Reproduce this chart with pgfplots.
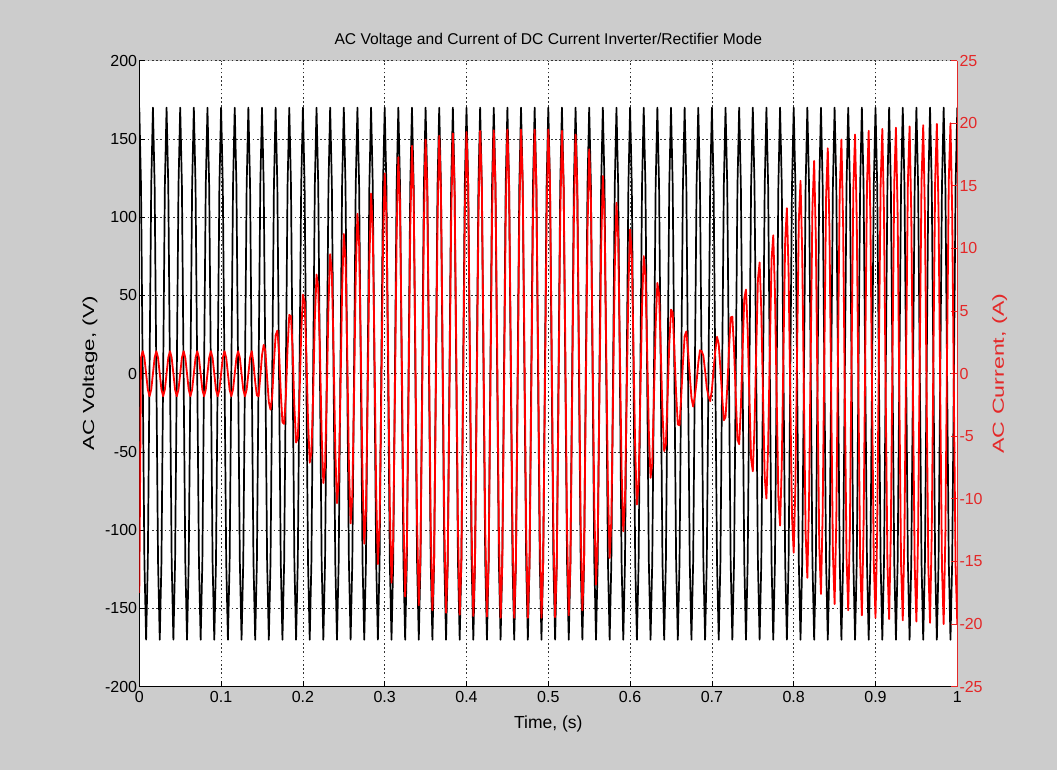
\documentclass[border=0pt]{standalone}
\usepackage{pgfplots}
\pgfplotsset{compat=1.18}
\usepackage{pgfplotstable}
\usepackage{graphicx}
\usepackage{fontspec}
\setmainfont{Liberation Sans}
\definecolor{figbg}{RGB}{204,204,204}
\definecolor{curred}{RGB}{255,0,0}
\definecolor{labred}{RGB}{228,40,40}

\pgfplotstableread[row sep=\\]{
n v i \\
0 170 -17.5 \\ 1 120.2 1.27 \\ 2 0 1.8 \\ 3 -120.2 1.27 \\ 4 -170 0 \\ 5 -120.2 -1.27 \\ 6 0 -1.8 \\ 7 120.2 -1.27 \\
8 170 0 \\ 9 120.2 1.27 \\ 10 0 1.8 \\ 11 -120.2 1.27 \\ 12 -170 0 \\ 13 -120.2 -1.27 \\ 14 0 -1.8 \\ 15 120.2 -1.27 \\
16 170 0 \\ 17 120.2 1.27 \\ 18 0 1.8 \\ 19 -120.2 1.27 \\ 20 -170 0 \\ 21 -120.2 -1.27 \\ 22 0 -1.8 \\ 23 120.2 -1.27 \\
24 170 0 \\ 25 120.2 1.27 \\ 26 0 1.8 \\ 27 -120.2 1.27 \\ 28 -170 0 \\ 29 -120.2 -1.27 \\ 30 0 -1.8 \\ 31 120.2 -1.27 \\
32 170 0 \\ 33 120.2 1.27 \\ 34 0 1.8 \\ 35 -120.2 1.27 \\ 36 -170 0 \\ 37 -120.2 -1.27 \\ 38 0 -1.8 \\ 39 120.2 -1.27 \\
40 170 0 \\ 41 120.2 1.27 \\ 42 0 1.8 \\ 43 -120.2 1.27 \\ 44 -170 0 \\ 45 -120.2 -1.27 \\ 46 0 -1.8 \\ 47 120.2 -1.27 \\
48 170 0 \\ 49 120.2 1.27 \\ 50 0 1.8 \\ 51 -120.2 1.27 \\ 52 -170 0 \\ 53 -120.2 -1.27 \\ 54 0 -1.8 \\ 55 120.2 -1.27 \\
56 170 0 \\ 57 120.2 1.27 \\ 58 0 1.8 \\ 59 -120.2 1.27 \\ 60 -170 0 \\ 61 -120.2 -1.27 \\ 62 0 -1.8 \\ 63 120.2 -1.27 \\
64 170 0 \\ 65 120.2 1.27 \\ 66 0 1.8 \\ 67 -120.2 0.81 \\ 68 -170 -0.65 \\ 69 -120.2 -1.73 \\ 70 0 -1.8 \\ 71 120.2 -0.24 \\
72 170 1.46 \\ 73 120.2 2.30 \\ 74 0 1.8 \\ 75 -120.2 -0.33 \\ 76 -170 -2.26 \\ 77 -120.2 -2.87 \\ 78 0 -1.8 \\ 79 120.2 0.90 \\
80 170 3.07 \\ 81 120.2 3.44 \\ 82 0 1.8 \\ 83 -120.2 -1.47 \\ 84 -170 -3.88 \\ 85 -120.2 -4.01 \\ 86 0 -1.8 \\ 87 120.2 2.05 \\
88 170 4.69 \\ 89 120.2 4.59 \\ 90 0 1.8 \\ 91 -120.2 -2.62 \\ 92 -170 -5.50 \\ 93 -120.2 -5.16 \\ 94 0 -1.8 \\ 95 120.2 3.19 \\
96 170 6.31 \\ 97 120.2 5.73 \\ 98 0 1.8 \\ 99 -120.2 -3.76 \\ 100 -170 -7.11 \\ 101 -120.2 -6.30 \\ 102 0 -1.8 \\ 103 120.2 4.33 \\
104 170 7.92 \\ 105 120.2 6.87 \\ 106 0 1.8 \\ 107 -120.2 -4.90 \\ 108 -170 -8.73 \\ 109 -120.2 -7.44 \\ 110 0 -1.8 \\ 111 120.2 5.48 \\
112 170 9.54 \\ 113 120.2 8.02 \\ 114 0 1.8 \\ 115 -120.2 -6.05 \\ 116 -170 -10.35 \\ 117 -120.2 -8.59 \\ 118 0 -1.8 \\ 119 120.2 6.62 \\
120 170 11.16 \\ 121 120.2 9.16 \\ 122 0 1.8 \\ 123 -120.2 -7.19 \\ 124 -170 -11.96 \\ 125 -120.2 -9.73 \\ 126 0 -1.8 \\ 127 120.2 7.76 \\
128 170 12.77 \\ 129 120.2 10.30 \\ 130 0 1.8 \\ 131 -120.2 -8.33 \\ 132 -170 -13.58 \\ 133 -120.2 -10.87 \\ 134 0 -1.8 \\ 135 120.2 8.91 \\
136 170 14.39 \\ 137 120.2 11.45 \\ 138 0 1.8 \\ 139 -120.2 -9.48 \\ 140 -170 -15.20 \\ 141 -120.2 -12.02 \\ 142 0 -1.8 \\ 143 120.2 10.04 \\
144 170 16.00 \\ 145 120.2 12.58 \\ 146 0 1.8 \\ 147 -120.2 -10.54 \\ 148 -170 -16.70 \\ 149 -120.2 -13.08 \\ 150 0 -1.8 \\ 151 120.2 10.96 \\
152 170 17.30 \\ 153 120.2 13.50 \\ 154 0 1.8 \\ 155 -120.2 -11.32 \\ 156 -170 -17.80 \\ 157 -120.2 -13.86 \\ 158 0 -1.8 \\ 159 120.2 11.60 \\
160 170 18.20 \\ 161 120.2 14.14 \\ 162 0 1.8 \\ 163 -120.2 -11.81 \\ 164 -170 -18.50 \\ 165 -120.2 -14.35 \\ 166 0 -1.8 \\ 167 120.2 11.95 \\
168 170 18.70 \\ 169 120.2 14.49 \\ 170 0 1.8 \\ 171 -120.2 -12.09 \\ 172 -170 -18.90 \\ 173 -120.2 -14.63 \\ 174 0 -1.8 \\ 175 120.2 12.16 \\
176 170 19.00 \\ 177 120.2 14.70 \\ 178 0 1.8 \\ 179 -120.2 -12.24 \\ 180 -170 -19.10 \\ 181 -120.2 -14.78 \\ 182 0 -1.8 \\ 183 120.2 12.31 \\
184 170 19.20 \\ 185 120.2 14.85 \\ 186 0 1.8 \\ 187 -120.2 -12.34 \\ 188 -170 -19.25 \\ 189 -120.2 -14.88 \\ 190 0 -1.8 \\ 191 120.2 12.38 \\
192 170 19.30 \\ 193 120.2 14.92 \\ 194 0 1.8 \\ 195 -120.2 -12.41 \\ 196 -170 -19.35 \\ 197 -120.2 -14.95 \\ 198 0 -1.8 \\ 199 120.2 12.45 \\
200 170 19.40 \\ 201 120.2 14.99 \\ 202 0 1.8 \\ 203 -120.2 -12.45 \\ 204 -170 -19.40 \\ 205 -120.2 -14.99 \\ 206 0 -1.8 \\ 207 120.2 12.48 \\
208 170 19.45 \\ 209 120.2 15.02 \\ 210 0 1.8 \\ 211 -120.2 -12.52 \\ 212 -170 -19.50 \\ 213 -120.2 -15.06 \\ 214 0 -1.8 \\ 215 120.2 12.52 \\
216 170 19.50 \\ 217 120.2 15.06 \\ 218 0 1.8 \\ 219 -120.2 -12.52 \\ 220 -170 -19.50 \\ 221 -120.2 -15.06 \\ 222 0 -1.8 \\ 223 120.2 12.52 \\
224 170 19.50 \\ 225 120.2 15.06 \\ 226 0 1.8 \\ 227 -120.2 -12.52 \\ 228 -170 -19.50 \\ 229 -120.2 -15.06 \\ 230 0 -1.8 \\ 231 120.2 12.52 \\
232 170 19.50 \\ 233 120.2 15.06 \\ 234 0 1.8 \\ 235 -120.2 -12.52 \\ 236 -170 -19.50 \\ 237 -120.2 -15.06 \\ 238 0 -1.8 \\ 239 120.2 12.52 \\
240 170 19.50 \\ 241 120.2 15.06 \\ 242 0 1.8 \\ 243 -120.2 -12.48 \\ 244 -170 -19.45 \\ 245 -120.2 -15.02 \\ 246 0 -1.8 \\ 247 120.2 12.45 \\
248 170 19.40 \\ 249 120.2 14.99 \\ 250 0 1.8 \\ 251 -120.2 -12.38 \\ 252 -170 -19.30 \\ 253 -120.2 -14.92 \\ 254 0 -1.8 \\ 255 120.2 12.24 \\
256 170 19.10 \\ 257 120.2 14.78 \\ 258 0 1.8 \\ 259 -120.2 -12.09 \\ 260 -170 -18.90 \\ 261 -120.2 -14.63 \\ 262 0 -1.8 \\ 263 120.2 11.40 \\
264 170 17.92 \\ 265 120.2 13.94 \\ 266 0 1.8 \\ 267 -120.2 -10.64 \\ 268 -170 -16.85 \\ 269 -120.2 -13.18 \\ 270 0 -1.8 \\ 271 120.2 9.90 \\
272 170 15.79 \\ 273 120.2 12.44 \\ 274 0 1.8 \\ 275 -120.2 -9.14 \\ 276 -170 -14.72 \\ 277 -120.2 -11.68 \\ 278 0 -1.8 \\ 279 120.2 8.38 \\
280 170 13.65 \\ 281 120.2 10.92 \\ 282 0 1.8 \\ 283 -120.2 -7.63 \\ 284 -170 -12.59 \\ 285 -120.2 -10.17 \\ 286 0 -1.8 \\ 287 120.2 6.88 \\
288 170 11.52 \\ 289 120.2 9.42 \\ 290 0 1.8 \\ 291 -120.2 -6.12 \\ 292 -170 -10.45 \\ 293 -120.2 -8.66 \\ 294 0 -1.8 \\ 295 120.2 5.37 \\
296 170 9.39 \\ 297 120.2 7.91 \\ 298 0 1.8 \\ 299 -120.2 -4.61 \\ 300 -170 -8.32 \\ 301 -120.2 -7.15 \\ 302 0 -1.8 \\ 303 120.2 3.86 \\
304 170 7.25 \\ 305 120.2 6.40 \\ 306 0 1.8 \\ 307 -120.2 -3.11 \\ 308 -170 -6.19 \\ 309 -120.2 -5.65 \\ 310 0 -1.8 \\ 311 120.2 2.35 \\
312 170 5.12 \\ 313 120.2 4.89 \\ 314 0 1.8 \\ 315 -120.2 -1.59 \\ 316 -170 -4.05 \\ 317 -120.2 -4.13 \\ 318 0 -1.8 \\ 319 120.2 0.84 \\
320 170 2.99 \\ 321 120.2 3.38 \\ 322 0 1.8 \\ 323 -120.2 -0.09 \\ 324 -170 -1.92 \\ 325 -120.2 -2.63 \\ 326 0 -1.8 \\ 327 120.2 -0.67 \\
328 170 0.85 \\ 329 120.2 1.87 \\ 330 0 1.8 \\ 331 -120.2 1.43 \\ 332 -170 0.22 \\ 333 -120.2 -1.11 \\ 334 0 -1.8 \\ 335 120.2 -2.19 \\
336 170 -1.30 \\ 337 120.2 0.35 \\ 338 0 1.8 \\ 339 -120.2 2.95 \\ 340 -170 2.38 \\ 341 -120.2 0.41 \\ 342 0 -1.8 \\ 343 120.2 -3.72 \\
344 170 -3.47 \\ 345 120.2 -1.18 \\ 346 0 1.8 \\ 347 -120.2 4.49 \\ 348 -170 4.55 \\ 349 -120.2 1.95 \\ 350 0 -1.8 \\ 351 120.2 -5.25 \\
352 170 -5.63 \\ 353 120.2 -2.71 \\ 354 0 1.8 \\ 355 -120.2 6.02 \\ 356 -170 6.72 \\ 357 -120.2 3.48 \\ 358 0 -1.8 \\ 359 120.2 -6.79 \\
360 170 -7.80 \\ 361 120.2 -4.25 \\ 362 0 1.8 \\ 363 -120.2 7.55 \\ 364 -170 8.88 \\ 365 -120.2 5.01 \\ 366 0 -1.8 \\ 367 120.2 -8.32 \\
368 170 -9.97 \\ 369 120.2 -5.78 \\ 370 0 1.8 \\ 371 -120.2 9.08 \\ 372 -170 11.05 \\ 373 -120.2 6.54 \\ 374 0 -1.8 \\ 375 120.2 -9.85 \\
376 170 -12.13 \\ 377 120.2 -7.31 \\ 378 0 1.8 \\ 379 -120.2 10.62 \\ 380 -170 13.22 \\ 381 -120.2 8.08 \\ 382 0 -1.8 \\ 383 120.2 -11.38 \\
384 170 -14.30 \\ 385 120.2 -8.84 \\ 386 0 1.8 \\ 387 -120.2 12.16 \\ 388 -170 15.40 \\ 389 -120.2 9.62 \\ 390 0 -1.8 \\ 391 120.2 -12.80 \\
392 170 -16.30 \\ 393 120.2 -10.26 \\ 394 0 1.8 \\ 395 -120.2 13.29 \\ 396 -170 17.00 \\ 397 -120.2 10.75 \\ 398 0 -1.8 \\ 399 120.2 -13.71 \\
400 170 -17.60 \\ 401 120.2 -11.17 \\ 402 0 1.8 \\ 403 -120.2 14.00 \\ 404 -170 18.00 \\ 405 -120.2 11.46 \\ 406 0 -1.8 \\ 407 120.2 -14.28 \\
408 170 -18.40 \\ 409 120.2 -11.74 \\ 410 0 1.8 \\ 411 -120.2 14.49 \\ 412 -170 18.70 \\ 413 -120.2 11.95 \\ 414 0 -1.8 \\ 415 120.2 -14.63 \\
416 170 -18.90 \\ 417 120.2 -12.09 \\ 418 0 1.8 \\ 419 -120.2 14.78 \\ 420 -170 19.10 \\ 421 -120.2 12.24 \\ 422 0 -1.8 \\ 423 120.2 -14.92 \\
424 170 -19.30 \\ 425 120.2 -12.38 \\ 426 0 1.8 \\ 427 -120.2 14.99 \\ 428 -170 19.40 \\ 429 -120.2 12.45 \\ 430 0 -1.8 \\ 431 120.2 -15.06 \\
432 170 -19.50 \\ 433 120.2 -12.52 \\ 434 0 1.8 \\ 435 -120.2 15.09 \\ 436 -170 19.55 \\ 437 -120.2 12.55 \\ 438 0 -1.8 \\ 439 120.2 -15.13 \\
440 170 -19.60 \\ 441 120.2 -12.59 \\ 442 0 1.8 \\ 443 -120.2 15.16 \\ 444 -170 19.65 \\ 445 -120.2 12.62 \\ 446 0 -1.8 \\ 447 120.2 -15.20 \\
448 170 -19.70 \\ 449 120.2 -12.66 \\ 450 0 1.8 \\ 451 -120.2 15.24 \\ 452 -170 19.75 \\ 453 -120.2 12.70 \\ 454 0 -1.8 \\ 455 120.2 -15.27 \\
456 170 -19.80 \\ 457 120.2 -12.73 \\ 458 0 1.8 \\ 459 -120.2 15.31 \\ 460 -170 19.85 \\ 461 -120.2 12.77 \\ 462 0 -1.8 \\ 463 120.2 -15.34 \\
464 170 -19.90 \\ 465 120.2 -12.80 \\ 466 0 1.8 \\ 467 -120.2 15.38 \\ 468 -170 19.95 \\ 469 -120.2 12.84 \\ 470 0 -1.8 \\ 471 120.2 -15.41 \\
472 170 -20.00 \\ 473 120.2 -12.87 \\ 474 0 1.8 \\ 475 -120.2 15.41 \\ 476 -170 20.00 \\ 477 -120.2 12.87 \\ 478 0 -1.8 \\ 479 120.2 -15.41 \\
480 170 -20.00 \\
}\data

\begin{document}
\begin{tikzpicture}[x=1pt,y=1pt]
\fill[figbg] (0,0) rectangle (1057,770);
\begin{axis}[
  at={(139.3pt,83.3pt)}, anchor=south west, scale only axis,
  width=818pt, height=626pt,
  axis background/.style={fill=white},
  xmin=0, xmax=1, ymin=-200, ymax=200,
  axis x line*=bottom, axis y line*=left,
  axis line style={black, line width=1pt},
  xtick={0,0.1,0.2,0.3,0.4,0.5,0.6,0.7,0.8,0.9,1},
  ytick={-200,-150,-100,-50,0,50,100,150,200},
  tick align=inside, major tick length=6pt,
  tick style={black, line width=0.8pt},
  grid=major,
  major grid style={black!80, line width=0.7pt, dash pattern=on 1.6pt off 2.6pt},
  /pgf/number format/assume math mode=true,
  ticklabel style={font=\fontsize{16}{19}\selectfont},
  xticklabel style={yshift=-1pt},
  yticklabel style={inner sep=2pt},
  xlabel={Time, (s)}, ylabel={\scalebox{1.4}[1]{AC Voltage, (V)}},
  xlabel style={font=\fontsize{17.5}{20}\selectfont, at={(axis description cs:0.5,-0.059)}, anchor=center},
  ylabel style={font=\fontsize{16}{19}\selectfont, at={(axis description cs:-0.0603,0.5)}, anchor=center},
  title={AC Voltage and Current of DC Current Inverter/Rectifier Mode},
  every axis title shift=0pt,
  title style={at={(axis description cs:0.5,1.033)}, anchor=center, font=\fontsize{15.6}{18}\selectfont},
]
\addplot[black, line width=1.7pt, line join=round] table[x expr=\thisrow{n}/480, y=v]{\data};
\end{axis}
\begin{axis}[
  at={(139.3pt,83.3pt)}, anchor=south west, scale only axis,
  width=818pt, height=626pt,
  xmin=0, xmax=1, ymin=-25, ymax=25,
  axis x line=none, axis y line*=right,
  y axis line style={labred, line width=1pt},
  ytick={-25,-20,-15,-10,-5,0,5,10,15,20,25},
  tick align=inside, major tick length=6pt,
  ytick style={labred, line width=0.8pt},
  /pgf/number format/assume math mode=true,
  yticklabel style={labred, font=\fontsize{16}{19}\selectfont, inner sep=2pt},
  ylabel={\scalebox{1.45}[1]{AC Current, (A)}},
  ylabel style={labred, font=\fontsize{16}{19}\selectfont, at={(axis description cs:1.052,0.5)}, anchor=center},
]
\addplot[curred, line width=1.8pt, line join=round] table[x expr=\thisrow{n}/480, y=i]{\data};
\end{axis}
\end{tikzpicture}
\end{document}
